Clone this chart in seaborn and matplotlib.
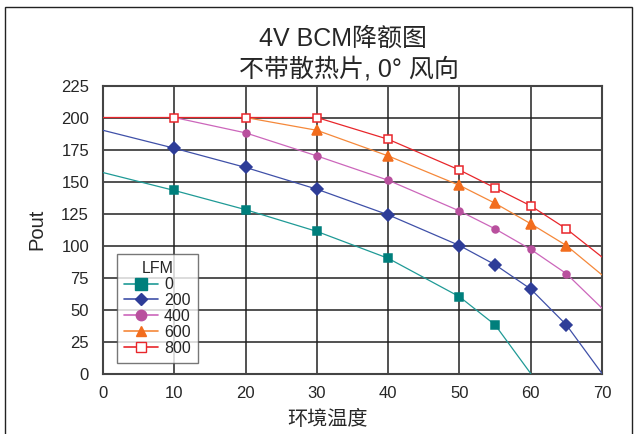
import pandas as pd
import seaborn as sns
import matplotlib.pyplot as plt
from matplotlib.lines import Line2D
from matplotlib.patches import Rectangle

sns.set_style("white")
plt.rcParams['font.family'] = ['Liberation Sans', 'Noto Sans CJK SC', 'DejaVu Sans']

# data (ambient temp vs Pout), one series per airflow
lfm_0_x = [0, 10, 20, 30, 40, 50, 55, 60]
lfm_0_y = [157, 143, 128, 111, 90, 60, 38, 0]
lfm_200_x = [0, 10, 20, 30, 40, 50, 55, 60, 65, 70]
lfm_200_y = [190, 176, 161, 144, 124, 100, 85, 66, 38, 0]
lfm_400_x = [10, 20, 30, 40, 50, 55, 60, 65, 70]
lfm_400_y = [200, 188, 170, 151, 127, 113, 97, 78, 51]
lfm_600_x = [20, 30, 40, 50, 55, 60, 65, 70]
lfm_600_y = [200, 190, 170, 147, 133, 117, 100, 77]
lfm_800_x = [0, 10, 20, 30, 40, 50, 55, 60, 65, 70]
lfm_800_y = [200, 200, 200, 200, 183, 159, 145, 131, 113, 91]

series_names = ['0', '200', '400', '600', '800']
series_x = [lfm_0_x, lfm_200_x, lfm_400_x, lfm_600_x, lfm_800_x]
series_y = [lfm_0_y, lfm_200_y, lfm_400_y, lfm_600_y, lfm_800_y]

# colors / markers
line_colors = ['#1f9a96', '#3f50a8', '#cc66bb', '#f5883a', '#e8262b']
mark_colors = ['#007f7c', '#2e3d98', '#b9509e', '#f26d1e', '#e8262b']
markers = ['s', 'D', 'o', '^', 's']
msizes = [6, 6, 5, 6.5, 6]
leg_sizes = [8, 6.5, 7.5, 7.5, 7.5]

fig = plt.figure(figsize=(6.36, 4.34), dpi=100)
ax = fig.add_axes([103 / 636, 60.5 / 434, 499 / 636, 288 / 434])

for i, name in enumerate(series_names):
    df = pd.DataFrame({'Temp': series_x[i], 'Pout': series_y[i]})
    sns.lineplot(data=df, x='Temp', y='Pout', ax=ax, color=line_colors[i],
                 linewidth=0.9, errorbar=None, zorder=3 + i)
    # markers on interior points only
    mk = df.iloc[1:-1]
    face = 'white' if name == '800' else mark_colors[i]
    ax.plot(mk['Temp'], mk['Pout'], linestyle='none', marker=markers[i],
            markersize=msizes[i], markerfacecolor=face,
            markeredgecolor=mark_colors[i], markeredgewidth=1.1, zorder=4 + i)

ax.set_xlim(0, 70)
ax.set_ylim(0, 225)
ax.set_xticks(range(0, 71, 10))
ax.set_yticks(range(0, 226, 25))
ax.grid(True, color='#222222', linewidth=1.1)
ax.set_axisbelow(True)
for s in ax.spines.values():
    s.set_color('#444444')
    s.set_linewidth(1.5)
ax.tick_params(axis='x', length=0, labelsize=12, pad=9)
ax.tick_params(axis='y', length=0, labelsize=12, pad=10)
ax.set_xlabel('环境温度', fontsize=14.5)
ax.xaxis.set_label_coords((327 - 103) / 499, -0.125)
ax.set_ylabel('Pout', fontsize=14.5, labelpad=10.5)

fig.text(343 / 636, 1 - 39 / 434, '4V BCM降额图', ha='center', va='center', fontsize=18)
fig.text(349 / 636, 1 - 69.5 / 434, '不带散热片, 0° 风向', ha='center', va='center', fontsize=18)

handles = []
for i in range(len(series_names)):
    face = 'white' if series_names[i] == '800' else mark_colors[i]
    handles.append(Line2D([0], [0], color=line_colors[i], linewidth=1.2,
                          marker=markers[i], markersize=leg_sizes[i],
                          markerfacecolor=face, markeredgecolor=mark_colors[i]))
leg = ax.legend(handles, series_names, title='LFM', loc='lower left',
                bbox_to_anchor=(0.028, 0.036), borderaxespad=0,
                fontsize=11.5, title_fontsize=11.5,
                frameon=True, fancybox=False, handlelength=2.1,
                labelspacing=0.06, handletextpad=0.4, borderpad=0.45)
leg.get_frame().set_edgecolor('#555555')
leg.get_frame().set_linewidth(1.0)

fig.patches.append(Rectangle((5 / 636, -0.01), 627 / 636, 1 - 7 / 434 + 0.01,
                             transform=fig.transFigure, fill=False,
                             edgecolor='#222222', linewidth=1.0))

plt.savefig('out.png', dpi=100)
